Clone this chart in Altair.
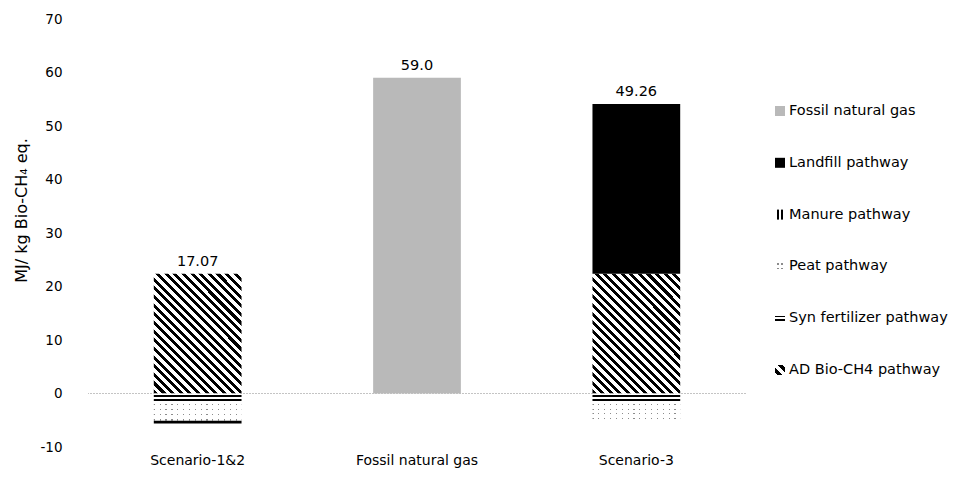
import altair as alt
import pandas as pd

# ---------------- data ----------------
categories = ["Scenario-1&2", "Fossil natural gas", "Scenario-3"]
series = ["Fossil natural gas", "Landfill pathway", "Manure pathway",
          "Peat pathway", "Syn fertilizer pathway", "AD Bio-CH4 pathway"]
# stacking order: positives go up from zero, negatives go down from zero
stack_order = ["AD Bio-CH4 pathway", "Landfill pathway", "Fossil natural gas",
               "Syn fertilizer pathway", "Peat pathway", "Manure pathway"]

ad_bio = [22.4, 0.0, 22.4]
landfill = [0.0, 0.0, 31.72]
fossil_gas = [0.0, 59.0, 0.0]
syn_fert = [-1.55, 0.0, -1.55]
peat = [-3.5, 0.0, -3.3]
manure = [-0.55, 0.0, 0.0]
total_labels = ["17.07", "59.0", "49.26"]
y_ticks = [-10, 0, 10, 20, 30, 40, 50, 60, 70]

series_values = {
    "AD Bio-CH4 pathway": ad_bio,
    "Landfill pathway": landfill,
    "Fossil natural gas": fossil_gas,
    "Syn fertilizer pathway": syn_fert,
    "Peat pathway": peat,
    "Manure pathway": manure,
}

rows = []
for s, vals in series_values.items():
    for c, v in zip(categories, vals):
        if v != 0:
            rows.append({"category": c, "series": s, "value": v,
                         "order": stack_order.index(s)})
df = pd.DataFrame(rows)

label_df = pd.DataFrame({
    "category": categories,
    "top": [sum(v for v in (series_values[s][i] for s in series_values) if v > 0)
            for i in range(len(categories))],
    "label": total_labels,
})
legend_df = pd.DataFrame({"series": series})

FONT = "DejaVu Sans"

# ---------------- pattern fills (gradients with hard stops) ----------------
def stripes(n, frac, c_on, c_off, x1, y1, x2, y2, start=0.0):
    stops = []
    for i in range(n):
        a = (i + start) / n
        b = (i + start + frac) / n
        stops += [{"offset": max(0.0, min(1.0, a)), "color": c_off},
                  {"offset": max(0.0, min(1.0, a)), "color": c_on},
                  {"offset": max(0.0, min(1.0, b)), "color": c_on},
                  {"offset": max(0.0, min(1.0, b)), "color": c_off}]
    stops = [{"offset": 0.0, "color": c_off}] + stops + [{"offset": 1.0, "color": c_off}]
    return {"gradient": "linear", "x1": x1, "y1": y1, "x2": x2, "y2": y2, "stops": stops}

def bands(pairs, c_on, c_off, x1, y1, x2, y2):
    stops = [{"offset": 0.0, "color": c_off}]
    for a, b in pairs:
        stops += [{"offset": a, "color": c_off}, {"offset": a, "color": c_on},
                  {"offset": b, "color": c_on}, {"offset": b, "color": c_off}]
    stops.append({"offset": 1.0, "color": c_off})
    return {"gradient": "linear", "x1": x1, "y1": y1, "x2": x2, "y2": y2, "stops": stops}

CLEAR = "rgba(255,255,255,0)"

# diagonal hatch "\" at 45 degrees for an 88 x 120 px segment
k = 120.0 / 88.0
f = (1 + k) / (1 + k * k)
hatch = stripes(24, 0.47, "black", "white", 0.0, 1.0, f, 1.0 - k * f)
syn_grad = bands([(0.18, 0.38), (0.72, 0.93)], "black", "white", 0, 0, 0, 1)
peat_rows = bands([(0.13, 0.19), (0.39, 0.45), (0.65, 0.71), (0.90, 0.96)],
                  "#8c8c8c", "white", 0, 0, 0, 1)
peat_cols = stripes(15, 0.8, "white", CLEAR, 0, 0, 1, 0, start=0.2)
fossil_fill = "#b9b9b9"

def cond_fill(mapping, default):
    return {"condition": [{"test": f"datum.series === '{s}'", "value": v}
                          for s, v in mapping.items()],
            "value": default}

bar_fill = cond_fill({
    "AD Bio-CH4 pathway": hatch,
    "Syn fertilizer pathway": syn_grad,
    "Peat pathway": peat_rows,
    "Fossil natural gas": fossil_fill,
    "Landfill pathway": "black",
}, "black")
overlay_fill = cond_fill({"Peat pathway": peat_cols}, "transparent")

# legend symbol fills
leg_hatch = stripes(2, 0.45, "black", "white", 0.0, 1.0, 1.0, 0.0, start=0.3)
leg_manure = bands([(0.2, 0.4), (0.6, 0.8)], "black", "white", 0, 0, 1, 0)
leg_peat = bands([(0.2, 0.38), (0.62, 0.8)], "#8c8c8c", "white", 0, 0, 0, 1)
leg_peat_cols = bands([(0.0, 0.2), (0.4, 0.6), (0.8, 1.0)], "white", CLEAR, 0, 0, 1, 0)
leg_syn = bands([(0.25, 0.42), (0.62, 0.79)], "black", "white", 0, 0, 0, 1)
legend_fill = cond_fill({
    "Fossil natural gas": fossil_fill,
    "Landfill pathway": "black",
    "Manure pathway": leg_manure,
    "Peat pathway": leg_peat,
    "Syn fertilizer pathway": leg_syn,
    "AD Bio-CH4 pathway": leg_hatch,
}, "black")
legend_overlay_fill = cond_fill({"Peat pathway": leg_peat_cols}, "transparent")

# ---------------- chart ----------------
x_enc = alt.X("category:N", sort=categories,
              scale=alt.Scale(domain=categories, paddingInner=0.6, paddingOuter=0.3),
              axis=alt.Axis(title=None, labelAngle=0, domain=False, ticks=False,
                            labelFont=FONT, labelFontSize=14, labelColor="black",
                            labelPadding=6))
y_enc = alt.Y("value:Q", stack="zero",
              scale=alt.Scale(domain=[-10, 70], nice=False, zero=False),
              axis=alt.Axis(values=y_ticks, grid=False, domain=False, ticks=False,
                            tickSize=0, labelPadding=26, labelFont=FONT,
                            labelFontSize=13.5, labelColor="black",
                            labelExpr="'' + datum.value",
                            title="MJ/ kg Bio-CH\u2084 eq.", titleFont=FONT,
                            titleFontSize=16, titleFontWeight="normal",
                            titleColor="black", titleX=-67, titleY=191,
                            titleAlign="center", titleBaseline="middle",
                            titleAngle=270))

zero_line = alt.Chart(pd.DataFrame({"z": [0]})).mark_rule(
    color="#c4c4c4", strokeWidth=1, strokeDash=[2, 1]
).encode(y=alt.Y("z:Q"))

bars = alt.Chart(df).mark_bar(strokeWidth=0).encode(
    x=x_enc, y=y_enc, order=alt.Order("order:Q"), fill=bar_fill)

bars_overlay = alt.Chart(df).mark_bar(strokeWidth=0).encode(
    x="category:N", y=alt.Y("value:Q", stack="zero"),
    order=alt.Order("order:Q"), fill=overlay_fill)

labels = alt.Chart(label_df).mark_text(
    dy=-12, font=FONT, fontSize=14.5, color="black", baseline="middle"
).encode(x="category:N", y="top:Q", text="label:N")

legend_y = alt.Y("series:N", sort=series,
                 scale=alt.Scale(type="point", domain=series, range=[92, 351], padding=0),
                 axis=None)
legend_sym = alt.Chart(legend_df).mark_point(
    shape="square", size=100, filled=True, strokeWidth=0, opacity=1
).encode(x=alt.value(692), y=legend_y, fill=legend_fill)
legend_sym_overlay = alt.Chart(legend_df).mark_point(
    shape="square", size=100, filled=True, strokeWidth=0, opacity=1
).encode(x=alt.value(692), y=legend_y, fill=legend_overlay_fill)
legend_txt = alt.Chart(legend_df).mark_text(
    align="left", baseline="middle", font=FONT, fontSize=14.5, color="black"
).encode(x=alt.value(701), y=legend_y, text="series:N")

main = alt.layer(zero_line, bars, bars_overlay, labels)
legend = alt.layer(legend_sym, legend_sym_overlay, legend_txt)

chart = alt.layer(main, legend).resolve_scale(y="independent").properties(
    width=658, height=428,
    autosize=alt.AutoSizeParams(type="none"),
    padding={"left": 88, "top": 19, "right": 210, "bottom": 40},
).configure(background="white").configure_view(strokeWidth=0, stroke="transparent")

chart.save("out.html", embed_options={"renderer": "svg", "actions": False})
